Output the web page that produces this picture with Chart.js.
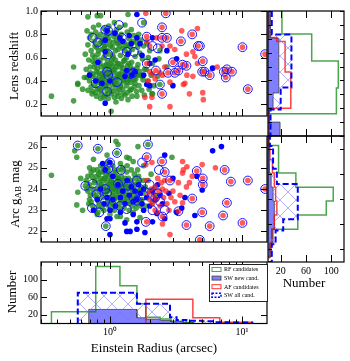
<!DOCTYPE html>
<html>
<head>
<meta charset="utf-8">
<script src="https://cdn.jsdelivr.net/npm/chart.js@4.4.1/dist/chart.umd.min.js"></script>
<style>
  body { margin: 0; background: #fff; }
  #wrap { position: relative; width: 350px; height: 361px; overflow: hidden; font-family: 'Liberation Serif', 'Times New Roman', serif; }
  canvas { position: absolute; left: 0; top: 0; }
  .lab { position: absolute; font-size: 13px; white-space: nowrap; color: #000; transform: translate(-50%, -50%); }
  .rot { transform: translate(-50%, -50%) rotate(-90deg); }
  .lab sub { font-size: 70%; vertical-align: -2px; line-height: 0; }
</style>
</head>
<body>
<div id="wrap">
  <canvas id="cTop" width="350" height="361"></canvas>
  <canvas id="cMid" width="350" height="361"></canvas>
  <canvas id="cBot" width="350" height="361"></canvas>
  <canvas id="cRTop" width="350" height="361"></canvas>
  <canvas id="cRMid" width="350" height="361"></canvas>
  <div class="lab rot" style="left:14px;top:66px">Lens redshift</div>
  <div class="lab rot" style="left:15px;top:194px">Arc g<sub>AB</sub> mag</div>
  <div class="lab rot" style="left:12px;top:292px">Number</div>
  <div class="lab" style="left:154px;top:348px">Einstein Radius (arcsec)</div>
  <div class="lab" style="left:304px;top:283px">Number</div>
</div>
<script>
// ---- scatter data: [Einstein radius (arcsec), value] ----
const rfZ = [
  [0.36,0.27],[0.53,0.23],[0.53,0.52],[0.57,0.38],[0.57,0.37],[0.62,0.33],[0.65,0.63],[0.64,0.43],[0.68,0.95],[0.80,0.96],[0.85,0.96],[1.02,0.14],[1.37,0.97],[1.8,0.90],
  [0.67,0.83],[0.7,0.77],[0.68,0.71],[0.72,0.66],[0.69,0.58],[0.71,0.47],[0.67,0.43],[0.7,0.40],[0.72,0.35],[0.68,0.32],[0.73,0.29],[0.66,0.50],
  [0.75,0.86],[0.78,0.82],[0.76,0.74],[0.79,0.69],[0.74,0.62],[0.77,0.55],[0.8,0.51],[0.75,0.46],[0.78,0.42],[0.76,0.37],[0.8,0.34],[0.74,0.31],[0.79,0.27],[0.77,0.60],
  [0.82,0.88],[0.85,0.80],[0.83,0.72],[0.87,0.67],[0.84,0.58],[0.86,0.52],[0.82,0.47],[0.88,0.43],[0.84,0.40],[0.87,0.36],[0.83,0.33],[0.86,0.29],[0.85,0.25],[0.88,0.76],[0.81,0.63],
  [0.9,0.85],[0.93,0.78],[0.91,0.70],[0.95,0.66],[0.9,0.60],[0.94,0.54],[0.92,0.50],[0.96,0.46],[0.9,0.42],[0.94,0.39],[0.91,0.35],[0.95,0.32],[0.92,0.28],[0.96,0.57],[0.89,0.73],
  [0.98,0.87],[1.02,0.81],[0.99,0.74],[1.04,0.69],[1.0,0.63],[1.03,0.58],[0.98,0.53],[1.05,0.49],[1.01,0.44],[0.99,0.41],[1.04,0.37],[1.0,0.33],[1.03,0.29],[0.97,0.25],[1.05,0.62],
  [1.08,0.90],[1.12,0.84],[1.07,0.78],[1.14,0.72],[1.1,0.66],[1.06,0.60],[1.13,0.55],[1.09,0.50],[1.15,0.46],[1.07,0.42],[1.12,0.38],[1.1,0.34],[1.14,0.30],[1.08,0.26],[1.11,0.22],
  [1.18,0.86],[1.22,0.80],[1.17,0.73],[1.25,0.68],[1.2,0.62],[1.27,0.57],[1.19,0.52],[1.24,0.48],[1.16,0.44],[1.26,0.41],[1.21,0.37],[1.18,0.33],[1.25,0.29],[1.22,0.25],
  [1.3,0.88],[1.35,0.82],[1.4,0.76],[1.32,0.70],[1.38,0.64],[1.29,0.58],[1.36,0.53],[1.41,0.49],[1.31,0.45],[1.39,0.41],[1.34,0.36],[1.42,0.32],[1.3,0.28],[1.37,0.24],
  [1.45,0.84],[1.52,0.79],[1.58,0.73],[1.48,0.67],[1.55,0.61],[1.46,0.56],[1.6,0.51],[1.5,0.47],[1.57,0.42],[1.44,0.39],[1.53,0.35],[1.59,0.31],[1.47,0.27],
  [1.65,0.80],[1.72,0.75],[1.8,0.70],[1.68,0.64],[1.76,0.59],[1.63,0.54],[1.83,0.50],[1.7,0.45],[1.78,0.41],[1.66,0.36],[1.74,0.32],[1.82,0.28],
  [1.9,0.72],[2.0,0.66],[1.95,0.60],[2.1,0.55],[1.88,0.50],[2.05,0.45],[1.93,0.40],[2.15,0.36],[1.98,0.33],[2.08,0.29],
  [2.39,0.66],[2.35,0.59],[2.7,0.52],[2.39,0.37],[2.1,0.29],[2.3,0.44],
  [0.73,0.44],[0.81,0.39],[0.87,0.46],[0.93,0.36],[1.0,0.47],[1.06,0.40],[1.13,0.43],[1.2,0.35],[1.28,0.43],[1.35,0.39],[1.45,0.44],[1.55,0.38],
  [0.76,0.52],[0.84,0.55],[0.92,0.62],[1.02,0.55],[1.1,0.58],[1.22,0.54],[1.33,0.60],[1.43,0.52],[0.8,0.78],[0.95,0.80],[1.12,0.75],[1.28,0.73],
  [0.71,0.52],[0.74,0.57],[0.79,0.48],[0.83,0.44],[0.86,0.41],[0.89,0.47],[0.91,0.53],[0.94,0.45],[0.97,0.38],[0.99,0.50],[1.02,0.42],[1.04,0.53],
  [1.07,0.47],[1.09,0.37],[1.11,0.52],[1.14,0.41],[1.16,0.55],[1.19,0.46],[1.23,0.43],[1.26,0.51],[1.29,0.40],[1.32,0.48],[1.36,0.45],[1.39,0.55],
  [1.42,0.43],[1.49,0.50],[1.52,0.41],[1.6,0.45],[1.68,0.48],[1.75,0.44],
  [0.72,0.80],[0.77,0.70],[0.82,0.66],[0.86,0.74],[0.9,0.68],[0.93,0.71],[0.97,0.77],[1.01,0.70],[1.06,0.73],[1.1,0.80],[1.15,0.67],[1.19,0.70],
  [1.24,0.74],[1.3,0.66],[1.37,0.71],[1.43,0.69],[1.5,0.74],[1.62,0.69],
  [0.78,0.30],[0.85,0.32],[0.9,0.26],[0.96,0.29],[1.05,0.31],[1.15,0.27],[1.25,0.33],[1.35,0.30],[1.45,0.33],[1.6,0.27]
];
const swNewZ = [
  [0.92,0.21],[1.6,0.97],[0.70,0.45],[0.92,0.75],[0.92,0.65],[0.81,0.56],[1.09,0.81],[1.19,0.77],[1.25,0.74],[1.3,0.44],[1.34,0.49],[1.47,0.45],
  [1.0,0.40],[0.87,0.38],[1.9,0.37],[2.0,0.36],[1.6,0.77],[1.69,0.72],[1.37,0.63],[2.1,0.77],[2.7,0.66],[3.0,0.36],[3.2,0.59],[6.0,0.51],[2.0,0.55],
  [0.95,0.83],[1.45,0.72],[1.55,0.48],[0.78,0.40],[1.8,0.45],[2.2,0.58],[1.4,0.79],[1.75,0.62]
];
const afZ = [
  [2.65,0.98],[2.48,0.86],[3.5,0.83],[4.6,0.85],[4.2,0.80],[2.27,0.77],[2.48,0.77],[2.7,0.77],[3.45,0.74],[2.85,0.70],[2.48,0.70],[3.1,0.67],[4.65,0.70],
  [10.1,0.69],[15.0,0.63],[4.25,0.65],[4.4,0.61],[3.0,0.56],[3.55,0.54],[3.8,0.53],[5.05,0.57],[4.6,0.55],[6.5,0.52],[7.7,0.50],[8.4,0.48],[7.3,0.48],
  [7.55,0.43],[5.0,0.48],[5.2,0.48],[5.7,0.45],[2.23,0.49],[2.75,0.47],[3.1,0.47],[3.3,0.49],[3.83,0.45],[4.25,0.44],[2.39,0.47],[2.5,0.45],[3.6,0.37],
  [2.48,0.29],[4.0,0.29],[5.05,0.30],[11.1,0.33],[2.85,0.18],[3.7,0.38],[2.85,0.39],[2.08,0.26],[1.87,0.98],[1.9,0.78],[1.9,0.74],[2.0,0.70],[1.9,0.55],
  [2.1,0.46],[1.84,0.26],[2.0,0.18],[5.1,0.24],[3.8,0.63],[2.2,0.42],[2.6,0.52],[2.0,0.48],[1.95,0.40]
];
const swAllZ = [
  [0.74,0.77],[0.92,0.84],[0.97,0.83],[1.17,0.88],[0.81,0.73],[0.97,0.63],[1.23,0.77],[1.34,0.65],[1.52,0.65],[1.75,0.90],[1.9,0.78],[0.95,0.48],
  [0.97,0.45],[0.78,0.38],[1.13,0.39],[1.44,0.46],[1.5,0.47],[0.95,0.31],[1.9,0.55],[2.65,0.98],[2.48,0.86],[4.2,0.80],[2.48,0.77],[2.7,0.77],
  [3.45,0.74],[4.65,0.70],[4.8,0.70],[10.1,0.69],[15.0,0.63],[3.0,0.56],[3.55,0.54],[3.8,0.53],[5.05,0.57],[7.7,0.50],[8.4,0.48],[7.3,0.48],
  [7.55,0.43],[5.0,0.48],[5.2,0.48],[5.7,0.45],[2.23,0.49],[2.75,0.47],[3.1,0.47],[3.3,0.49],[2.48,0.29],[11.1,0.33],[2.39,0.37],[2.1,0.70],[2.3,0.68]
];

const rfMag = [
  [0.36,24.65],[0.57,26.05],[0.54,25.8],[0.56,25.5],[0.57,23.85],[0.56,23.25],[0.65,24.15],[0.81,25.9],[1.13,25.7],[1.11,26.25],[1.15,26.1],[1.94,26.1],
  [1.63,26.0],[1.34,25.5],[1.4,25.45],[0.95,25.6],[0.97,25.3],[0.93,22.25],[1.13,22.7],[1.34,22.55],[1.69,22.65],[2.95,25.5],[0.6,24.5],[0.62,23.0],
  [0.7,25.0],[0.75,25.4],[0.85,25.1],[1.2,25.2],[1.5,25.3],[1.8,25.1],
  [0.66,24.4],[0.68,23.9],[0.7,23.5],[0.72,24.8],[0.74,23.2],[0.67,24.0],[0.73,24.6],[0.69,23.3],
  [0.76,24.3],[0.78,23.7],[0.8,24.9],[0.82,23.4],[0.84,24.1],[0.77,23.0],[0.79,24.6],[0.83,23.9],[0.81,22.9],[0.85,24.5],
  [0.86,24.2],[0.88,23.6],[0.9,24.8],[0.92,23.3],[0.94,24.0],[0.87,23.1],[0.91,24.5],[0.93,23.8],[0.89,25.0],[0.95,24.3],
  [0.96,23.9],[0.98,24.6],[1.0,23.4],[1.02,24.2],[1.04,23.7],[0.97,24.9],[1.01,23.0],[1.03,24.4],[0.99,23.6],[1.05,24.0],[1.0,24.7],
  [1.06,24.3],[1.08,23.5],[1.1,24.8],[1.12,23.9],[1.14,24.5],[1.07,23.2],[1.11,24.1],[1.13,23.6],[1.09,24.0],[1.15,24.3],
  [1.17,24.0],[1.2,23.5],[1.22,24.6],[1.25,23.8],[1.28,24.2],[1.18,23.1],[1.23,24.9],[1.27,23.4],[1.19,24.4],[1.3,23.7],
  [1.32,24.1],[1.35,23.6],[1.38,24.5],[1.41,23.3],[1.44,24.0],[1.47,23.8],[1.34,24.8],[1.4,23.0],[1.46,24.3],[1.5,23.5],
  [1.55,24.2],[1.6,23.7],[1.65,24.6],[1.7,23.4],[1.75,24.0],[1.58,23.1],[1.68,24.4],[1.78,23.8],[1.62,24.9],[1.72,23.2],
  [1.85,24.1],[1.9,23.6],[1.95,24.4],[2.0,23.9],[2.1,23.4],[2.05,24.7],[1.88,23.2],[2.15,24.0],[2.2,23.7],
  [0.7,24.2],[0.75,23.8],[0.8,24.0],[0.88,24.4],[0.93,24.7],[1.0,24.1],[1.05,23.3],[1.12,24.6],[1.2,24.2],[1.27,23.9],[1.36,24.3],[1.45,23.6],
  [1.55,24.5],[1.65,23.9],[0.82,24.7],[0.96,23.5],[1.16,23.9],[1.3,24.5],[1.52,23.9],[1.08,24.9],
  [0.68,24.6],[0.71,23.7],[0.74,24.0],[0.77,24.4],[0.8,23.6],[0.83,24.3],[0.86,23.8],[0.89,24.1],[0.92,24.5],[0.95,23.9],[0.98,24.2],[1.01,24.4],
  [1.04,23.9],[1.07,24.6],[1.1,23.7],[1.13,24.2],[1.16,24.5],[1.19,23.8],[1.22,24.1],[1.26,24.4],[1.29,23.5],[1.33,23.9],[1.37,24.1],[1.42,24.4],
  [1.48,24.1],[1.53,24.7],[1.58,23.6],[1.63,24.3],[1.7,24.0],[1.8,24.4],
  [0.75,24.9],[0.85,24.8],[0.95,25.0],[1.05,25.1],[1.15,24.9],[1.25,25.0],[1.35,25.1],[1.45,24.9],
  [0.72,23.4],[0.82,23.2],[0.9,23.0],[0.98,23.2],[1.08,23.0],[1.18,23.3],[1.28,23.1],[1.38,23.4],[1.48,23.2],[1.6,23.3],[1.75,23.5],
  [0.8,22.8],[1.0,22.8],[1.2,22.7],[1.5,22.9]
];
const swNewMag = [
  [0.88,25.2],[1.0,25.25],[1.0,21.85],[1.34,22.0],[1.42,22.0],[1.6,22.1],[1.84,21.95],[0.95,22.6],[1.0,22.6],[1.3,22.4],[1.6,22.45],[2.1,22.45],
  [7.0,26.0],[6.0,25.8],[2.6,25.6],[4.55,24.6],[5.0,23.95],[4.4,22.75],[2.27,22.85],[2.6,22.6],[3.7,23.6],
  [0.8,23.5],[0.9,23.3],[0.95,23.6],[1.05,23.5],[1.1,23.2],[1.2,23.6],[1.25,23.9],[1.3,23.3],[1.4,23.7],[1.45,24.1],[1.5,23.4],[1.55,23.9],
  [1.6,23.5],[1.7,23.8],[1.75,23.3],[1.8,24.0],[1.9,23.6],[2.0,23.2],[2.1,23.9],[2.2,23.5],[2.4,23.7],[2.5,23.3],[1.15,24.2],[0.85,24.0],
  [1.35,24.4],[1.65,24.2],[2.3,24.2],[1.0,23.0],[1.2,22.9],[1.5,22.8],[0.75,23.0],[1.8,23.0],[1.05,24.6],[0.92,24.9],[2.8,23.8],[3.0,24.5],[3.2,22.9],[3.5,23.1]
];
const afMag = [
  [2.48,25.3],[2.6,24.8],[2.85,24.4],[4.55,24.85],[5.05,24.5],[5.05,24.2],[7.4,24.9],[8.25,24.35],[11.1,24.4],[15.0,24.0],[4.2,23.55],[7.7,23.35],
  [5.0,22.9],[7.2,22.75],[3.3,22.95],[3.8,22.3],[5.7,22.25],[10.1,22.4],[4.8,21.6],[2.5,22.7],[3.55,25.3],[3.83,25.05],[5.0,25.15],[6.3,25.0],
  [3.6,24.9],[3.55,24.75],[4.2,24.6],[2.6,24.4],[2.3,24.5],[3.3,24.3],[3.8,24.1],[4.0,24.3],[2.5,24.0],[3.55,23.35],[2.5,22.35],[2.85,21.85],
  [2.08,25.25],[1.9,25.5],[1.87,25.15],[1.9,24.4],[1.9,22.45],
  [1.95,23.8],[2.0,23.5],[2.05,24.0],[2.1,23.3],[2.15,23.7],[2.2,24.1],[2.25,23.5],[2.35,23.9],[2.4,23.2],[2.55,23.6],[2.65,23.9],[2.7,23.3],
  [2.9,23.6],[3.0,23.9],[3.1,23.4],[2.3,22.9],[2.8,23.0],[3.4,23.7],[2.2,23.0],[2.45,24.3]
];
const swAllMag = [
  [0.57,26.05],[0.81,25.9],[1.13,25.7],[1.94,26.1],[1.0,25.25],[0.97,24.95],[1.21,24.9],[1.75,25.25],[0.65,24.15],[0.74,24.25],[0.79,23.75],
  [0.92,24.0],[0.95,23.8],[1.15,24.25],[1.37,24.15],[1.6,24.4],[1.69,24.0],[1.04,23.25],[1.19,23.2],[1.34,23.05],[0.92,23.4],[0.73,23.1],
  [0.83,22.9],[0.93,22.25],[1.6,23.45],[1.87,22.45],[2.48,25.3],[2.6,24.8],[2.85,24.4],[4.55,24.85],[5.05,24.5],[5.05,24.2],[7.4,24.9],
  [8.25,24.35],[11.1,24.4],[15.0,24.0],[4.2,23.55],[7.7,23.35],[5.0,22.9],[7.2,22.75],[3.3,22.95],[3.8,22.3],[5.7,22.25],[10.1,22.4],
  [4.8,21.6],[2.5,22.7],[1.9,25.5],[2.35,24.9],[2.0,24.2],[2.2,23.6],[2.4,23.4],[2.6,23.0],[1.8,23.7],[2.1,23.0],[2.3,23.8],[1.5,23.6]
];

// ---- histograms: bin edges and counts ----
const rfThetaEdges = [0.36, 0.78, 1.19, 1.6, 1.87, 2.4, 2.9, 3.6, 4.3];
const rfThetaCounts = [27, 130, 86, 45, 14, 10, 5, 2];
const swNewThetaEdges = [0.69, 1.6, 1.87, 2.4, 2.9, 3.6, 4.3];
const swNewThetaCounts = [32, 13, 10, 7, 4, 2];
const swAllThetaEdges = [0.57, 1.6, 2.85, 3.2, 3.8, 5.0, 6.0, 8.0, 12.0];
const swAllThetaCounts = [70, 45, 14, 8, 6, 5, 3, 2];
const afThetaEdges = [1.87, 4.25, 6.8, 9.3, 11.9];
const afThetaCounts = [55, 13, 3, 3];

const rfZEdges = [0.07, 0.26, 0.445, 0.64, 0.834, 1.03];
const rfZCounts = [2, 108, 111, 69, 22];
const swNewZEdges = [0.1, 0.2, 0.3, 0.41, 0.805, 1.03];
const swNewZCounts = [19, 2, 8, 17, 4];
const afZEdges = [0.1, 0.3, 0.56, 0.78, 0.81, 1.03];
const afZCounts = [2, 36, 27, 14, 2];
const swAllZEdges = [0.1, 0.29, 0.45, 0.83, 1.03];
const swAllZCounts = [4, 20, 37, 6];

const magEdges = [21.7, 22.25, 22.8, 23.37, 23.92, 24.47, 25.03, 25.57, 26.12, 26.67];
const rfMagCounts = [3, 6, 47, 92, 103, 44, 16, 17, 2];
const swNewMagCounts = [5, 8, 10, 10, 8, 5, 3, 2, 0];
const afMagCounts = [3, 6, 10, 14, 12, 10, 7, 3, 0];
const swAllMagEdges = [21.5, 22.2, 22.75, 23.2, 24.6, 25.2, 26.1, 26.5];
const swAllMagCounts = [6, 12, 24, 47, 14, 8, 3];

// ---- ticks ----
const thetaMajor = [1, 10];
const thetaMinor = [0.3, 0.4, 0.5, 0.6, 0.7, 0.8, 0.9, 2, 3, 4, 5, 6, 7, 8, 9];
const thetaLabels = ['10\u2070', '10\u00b9'];
const zTicks = [0.2, 0.4, 0.6, 0.8, 1.0];
const zLabels = ['0.2', '0.4', '0.6', '0.8', '1.0'];
const zHistTicks = [0.1, 0.2, 0.3, 0.4, 0.5, 0.6, 0.7, 0.8, 0.9, 1.0];
const magTicks = [22, 23, 24, 25, 26];
const magLabels = ['22', '23', '24', '25', '26'];
const countTicks = [20, 60, 100];
const countLabels = ['20', '60', '100'];
const legendLabels = ['RF candidates', 'SW new cand.', 'AF candidates', 'SW all cand.'];

const W = 350, H = 361;
Chart.defaults.font.family = "'Liberation Serif', 'Times New Roman', serif";
Chart.defaults.color = '#000';

const GREEN = 'rgba(34,139,34,0.8)';
const BLUE = 'rgb(0,0,255)';
const RED = 'rgba(255,30,30,0.72)';

function hatchPattern() {
  const c = document.createElement('canvas');
  c.width = 16; c.height = 16;
  const g = c.getContext('2d');
  g.strokeStyle = 'rgba(120,120,255,0.6)';
  g.lineWidth = 1;
  g.beginPath();
  g.moveTo(0, 0); g.lineTo(16, 16);
  g.moveTo(16, 0); g.lineTo(0, 16);
  g.stroke();
  return g.createPattern(c, 'repeat');
}
const HATCH = hatchPattern();

const pts = arr => arr.map(([x, y]) => ({x, y}));
const dots = (arr, color) => ({data: pts(arr), backgroundColor: color, borderWidth: 0, pointRadius: 2.8, clip: 0});
const rings = arr => ({data: pts(arr), backgroundColor: 'rgba(0,0,0,0)', borderColor: 'rgb(20,20,255)', borderWidth: 1, pointRadius: 4.4, clip: 0});

// outline of a histogram with bins along x
function stepX(edges, counts) {
  const p = [{x: edges[0], y: 0}];
  counts.forEach((c, i) => p.push({x: edges[i], y: c}, {x: edges[i + 1], y: c}));
  p.push({x: edges[edges.length - 1], y: 0});
  return p;
}
// outline of a histogram with bins along y (counts on x)
function stepY(edges, counts) {
  const p = [{x: 0, y: edges[0]}];
  counts.forEach((c, i) => p.push({x: c, y: edges[i]}, {x: c, y: edges[i + 1]}));
  p.push({x: 0, y: edges[edges.length - 1]});
  return p;
}
const histLine = (data, color, width, dash) => ({
  data, showLine: true, pointRadius: 0, borderColor: color, borderWidth: width,
  borderDash: dash || [], fill: false, clip: 0
});
const histFill = (data, bg, border, dash, width) => ({
  data, showLine: true, pointRadius: 0, backgroundColor: bg, borderColor: border,
  borderWidth: width, borderDash: dash || [], fill: 'shape', clip: 0
});

// size = room kept for the tick labels outside the plot area
function axis(type, min, max, ticks, labels, size) {
  return {
    type, min, max,
    afterFit: s => { if (s.isHorizontal()) s.height = size || 0; else s.width = size || 0; },
    afterBuildTicks: s => { s.ticks = ticks.map(v => ({value: v})); },
    grid: {display: false, drawTicks: false},
    border: {display: false},
    ticks: {
      display: !!labels, autoSkip: false, maxRotation: 0, padding: 3,
      font: {size: 10},
      callback: (v, i) => (labels ? labels[i] : '')
    }
  };
}

// frame and inward tick marks on all four sides
const framePlugin = {
  id: 'frame',
  afterDatasetsDraw(chart, args, o) {
    const {ctx, chartArea: a} = chart;
    ctx.save();
    ctx.strokeStyle = '#000';
    ctx.lineWidth = 1;
    ctx.beginPath();
    const put = (scale, vals, len) => {
      (vals || []).forEach(v => {
        const p = Math.round(scale.getPixelForValue(v)) + 0.5;
        if (scale.isHorizontal()) {
          ctx.moveTo(p, a.top); ctx.lineTo(p, a.top + len);
          ctx.moveTo(p, a.bottom); ctx.lineTo(p, a.bottom - len);
        } else {
          ctx.moveTo(a.left, p); ctx.lineTo(a.left + len, p);
          ctx.moveTo(a.right, p); ctx.lineTo(a.right - len, p);
        }
      });
    };
    put(chart.scales.x, o.xMajor, 7);
    put(chart.scales.x, o.xMinor, 4);
    put(chart.scales.y, o.yMajor, 6);
    put(chart.scales.y, o.yMinor, 4);
    ctx.stroke();
    ctx.lineWidth = 1.2;
    ctx.strokeRect(a.left, a.top, a.right - a.left, a.bottom - a.top);
    ctx.restore();
  }
};

const legendPlugin = {
  id: 'boxLegend',
  afterDraw(chart) {
    const ctx = chart.ctx;
    const x0 = 209.5, y0 = 264.5, w = 58, h = 37, row = 8.6;
    ctx.save();
    ctx.fillStyle = '#fff';
    ctx.fillRect(x0, y0, w, h);
    ctx.strokeStyle = '#222';
    ctx.lineWidth = 1;
    ctx.strokeRect(x0, y0, w, h);
    ctx.font = "6px 'Liberation Serif'";
    ctx.textBaseline = 'middle';
    legendLabels.forEach((txt, i) => {
      const cy = y0 + 5 + i * row;
      const sx = x0 + 2.5, sw = 9, sh = 4;
      ctx.setLineDash([]);
      ctx.lineWidth = 1;
      if (i === 0) { ctx.strokeStyle = 'rgba(0,128,0,0.7)'; ctx.strokeRect(sx, cy - sh / 2, sw, sh); }
      if (i === 1) { ctx.fillStyle = 'rgba(0,0,255,0.5)'; ctx.fillRect(sx, cy - sh / 2, sw, sh); ctx.strokeStyle = 'rgba(60,60,60,0.8)'; ctx.strokeRect(sx, cy - sh / 2, sw, sh); }
      if (i === 2) { ctx.strokeStyle = 'rgba(255,0,0,0.8)'; ctx.strokeRect(sx, cy - sh / 2, sw, sh); }
      if (i === 3) { ctx.strokeStyle = BLUE; ctx.lineWidth = 1.5; ctx.setLineDash([2, 1.5]); ctx.strokeRect(sx, cy - sh / 2, sw, sh); }
      ctx.setLineDash([]);
      ctx.fillStyle = '#000';
      ctx.fillText(txt, sx + sw + 3, cy + 0.3);
    });
    ctx.restore();
  }
};

// box = plot area [left, top, right, bottom] in page pixels
function panel(id, box, datasets, x, y, frame, extra) {
  const xs = x.ticks.display ? x.size : 0, ys = y.ticks.display ? y.size : 0;
  return new Chart(document.getElementById(id), {
    type: 'scatter',
    data: {datasets},
    options: {
      responsive: false,
      animation: false,
      events: [],
      layout: {padding: {left: box[0] - ys, top: box[1], right: W - box[2], bottom: H - box[3] - xs}},
      scales: {x, y},
      plugins: {legend: {display: false}, tooltip: {enabled: false}, frame}
    },
    plugins: [framePlugin].concat(extra || [])
  });
}
function sized(ax, size) { ax.size = size; return ax; }

const xLog = labels => sized(axis('logarithmic', 0.3, 15.5, thetaMajor.concat(thetaMinor),
  labels ? thetaLabels.concat(thetaMinor.map(() => '')) : null, 20), 20);
const xFrame = {xMajor: thetaMajor, xMinor: thetaMinor};

// lens redshift vs Einstein radius
panel('cTop', [41, 11, 267, 136],
  [rings(swAllZ), dots(afZ, RED), dots(swNewZ, BLUE), dots(rfZ, GREEN)],
  xLog(false), sized(axis('linear', 0.1, 1.0, zTicks, zLabels, 30), 30),
  Object.assign({yMajor: zTicks}, xFrame));

// arc magnitude vs Einstein radius
panel('cMid', [41, 136, 267, 262],
  [rings(swAllMag), dots(afMag, RED), dots(swNewMag, BLUE), dots(rfMag, GREEN)],
  xLog(false), sized(axis('linear', 21.5, 26.5, magTicks, magLabels, 30), 30),
  Object.assign({yMajor: magTicks}, xFrame));

// Einstein radius histogram
panel('cBot', [41, 262, 267, 323.5],
  [
    histFill(stepX(swAllThetaEdges, swAllThetaCounts), HATCH, BLUE, [6, 3], 2),
    histLine(stepX(afThetaEdges, afThetaCounts), 'rgba(255,0,0,0.75)', 1.5),
    histLine(stepX(rfThetaEdges, rfThetaCounts), 'rgba(0,128,0,0.7)', 1.5),
    histFill(stepX(swNewThetaEdges, swNewThetaCounts), 'rgba(0,0,255,0.5)', 'rgba(60,60,60,0.8)', null, 1)
  ],
  xLog(true), sized(axis('linear', 0, 140, countTicks, countLabels, 30), 30),
  Object.assign({yMajor: countTicks}, xFrame), [legendPlugin]);

// redshift histogram
panel('cRTop', [268, 11, 344, 136],
  [
    histFill(stepY(swAllZEdges, swAllZCounts), HATCH, BLUE, [6, 3], 2),
    histLine(stepY(afZEdges, afZCounts), 'rgba(255,0,0,0.75)', 1.5),
    histLine(stepY(rfZEdges, rfZCounts), 'rgba(0,128,0,0.7)', 1.5),
    histFill(stepY(swNewZEdges, swNewZCounts), 'rgba(0,0,255,0.5)', 'rgba(60,60,60,0.8)', null, 1)
  ],
  sized(axis('linear', 0, 120, countTicks, null), 0), sized(axis('linear', 0.1, 1.0, zHistTicks, null), 0),
  {xMajor: countTicks, yMinor: zHistTicks});

// magnitude histogram
panel('cRMid', [268, 136, 344, 262],
  [
    histFill(stepY(swAllMagEdges, swAllMagCounts), HATCH, BLUE, [6, 3], 2),
    histLine(stepY(magEdges, afMagCounts), 'rgba(255,0,0,0.75)', 1.5),
    histLine(stepY(magEdges, rfMagCounts), 'rgba(0,128,0,0.7)', 1.5),
    histFill(stepY(magEdges, swNewMagCounts), 'rgba(0,0,255,0.5)', 'rgba(60,60,60,0.8)', null, 1)
  ],
  sized(axis('linear', 0, 120, countTicks, countLabels, 14), 14), sized(axis('linear', 21.5, 26.5, magTicks, null), 0),
  {xMajor: countTicks, yMinor: magTicks});
</script>
</body>
</html>
